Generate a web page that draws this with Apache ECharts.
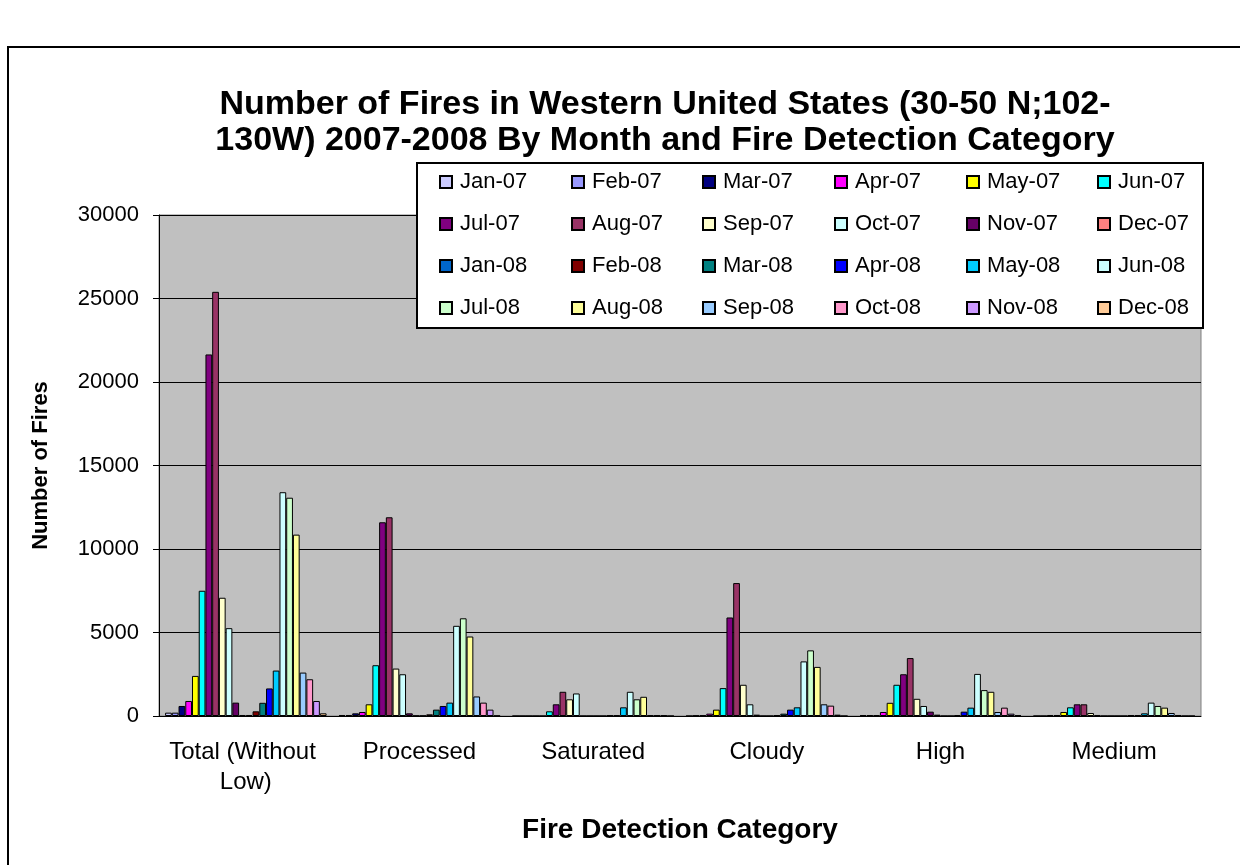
<!DOCTYPE html>
<html>
<head>
    <meta charset="utf-8">
    <title>ECharts</title>
    <script src="https://cdn.jsdelivr.net/npm/echarts@6/dist/echarts.min.js"></script>
    <style type="text/css">
        html, body {
            margin: 0;
            height: 100%;
            background: #fff;
        }
    </style>
</head>
<body>
<div id="main" style="width: 1240px;height:865px;"></div>
<script type="text/javascript">
    var categories = ['Total (Without Low)', 'Processed', 'Saturated', 'Cloudy', 'High', 'Medium'];
    var months = ['Jan-07', 'Feb-07', 'Mar-07', 'Apr-07', 'May-07', 'Jun-07',
        'Jul-07', 'Aug-07', 'Sep-07', 'Oct-07', 'Nov-07', 'Dec-07',
        'Jan-08', 'Feb-08', 'Mar-08', 'Apr-08', 'May-08', 'Jun-08',
        'Jul-08', 'Aug-08', 'Sep-08', 'Oct-08', 'Nov-08', 'Dec-08'];
    var colors = ['#CCCCFF', '#9999FF', '#000080', '#FF00FF', '#FFFF00', '#00FFFF',
        '#800080', '#993366', '#FFFFCC', '#CCFFFF', '#660066', '#FF8080',
        '#0066CC', '#800000', '#008080', '#0000FF', '#00CCFF', '#CCFFFF',
        '#CCFFCC', '#FFFF99', '#99CCFF', '#FF99CC', '#CC99FF', '#FFCC99'];

    // fires per month (Jan-07 .. Dec-08) for each detection category
    var totalWithoutLow = [200, 200, 600, 900, 2400, 7500, 21650, 25400, 7080, 5260, 800, 60,
        60, 280, 790, 1650, 2720, 13400, 13070, 10860, 2600, 2200, 900, 160];
    var processed = [60, 60, 160, 240, 700, 3040, 11600, 11900, 2840, 2500, 160, 20,
        20, 100, 380, 600, 800, 5400, 5850, 4760, 1170, 800, 380, 20];
    var saturated = [0, 0, 0, 0, 0, 280, 700, 1450, 1000, 1350, 0, 0,
        0, 0, 40, 40, 520, 1450, 1000, 1150, 40, 40, 40, 0];
    var cloudy = [0, 30, 50, 140, 380, 1670, 5900, 7960, 1870, 700, 80, 0,
        0, 50, 140, 380, 520, 3270, 3930, 2940, 700, 620, 80, 0];
    var high = [50, 50, 50, 240, 790, 1870, 2500, 3470, 1030, 600, 260, 80,
        0, 0, 50, 260, 500, 2520, 1550, 1450, 240, 500, 140, 50];
    var medium = [0, 0, 60, 60, 240, 520, 700, 700, 180, 60, 0, 0,
        0, 0, 50, 50, 160, 800, 600, 500, 180, 60, 0, 0];

    var yTicks = [0, 5000, 10000, 15000, 20000, 25000, 30000];

    var groups = [totalWithoutLow, processed, saturated, cloudy, high, medium];
    var font = "'Liberation Sans', Arial, sans-serif";

    var series = months.map(function (m, i) {
        return {
            name: m,
            type: 'bar',
            barGap: '0%',
            barCategoryGap: '7%',
            itemStyle: {color: colors[i], borderColor: '#000', borderWidth: 1},
            data: groups.map(function (g) { return g[i]; })
        };
    });

    // legend: 6 columns of 4 rows, like the original box
    var legendCols = [439, 571, 702, 834, 966, 1097];
    var legends = legendCols.map(function (x, c) {
        return {
            orient: 'vertical',
            left: x,
            top: 171,
            z: 10,
            itemWidth: 12,
            itemHeight: 12,
            itemGap: 20,
            padding: 0,
            icon: 'rect',
            textStyle: {fontFamily: font, fontSize: 22, color: '#000', lineHeight: 21, padding: [0, 0, 0, 3]},
            data: [months[c], months[c + 6], months[c + 12], months[c + 18]]
        };
    });

    var myChart = echarts.init(document.getElementById('main'), null, {renderer: 'canvas'});

    var option = {
        animation: false,
        color: colors,
        title: {
            text: 'Number of Fires in Western United States (30-50 N;102-\n130W) 2007-2008 By Month and Fire Detection Category',
            left: 660,
            top: 82,
            textAlign: 'center',
            textStyle: {fontFamily: font, fontSize: 34, fontWeight: 'bold', color: '#000', lineHeight: 36}
        },
        legend: legends,
        graphic: [
            {type: 'rect', z: 0, shape: {x: 8, y: 47, width: 1300, height: 900}, style: {fill: 'none', stroke: '#000', lineWidth: 2}, silent: true},
            {type: 'rect', z: 5, shape: {x: 417, y: 163, width: 786, height: 165}, style: {fill: '#fff', stroke: '#000', lineWidth: 2}, silent: true}
        ],
        grid: {
            left: 159,
            right: 39,
            top: 215,
            bottom: 149,
            show: true,
            backgroundColor: '#C0C0C0',
            borderColor: '#808080',
            borderWidth: 1
        },
        xAxis: {
            type: 'category',
            data: categories,
            name: 'Fire Detection Category',
            nameLocation: 'middle',
            nameGap: 100,
            nameTextStyle: {fontFamily: font, fontSize: 28, fontWeight: 'bold', color: '#000'},
            axisLine: {lineStyle: {color: '#000', width: 1}},
            axisTick: {length: 7, lineStyle: {color: '#000'}},
            axisLabel: {
                interval: 0, margin: 21, width: 172, overflow: 'break',
                fontFamily: font, fontSize: 24, color: '#000', lineHeight: 30
            }
        },
        yAxis: {
            type: 'value',
            min: yTicks[0],
            max: yTicks[yTicks.length - 1],
            interval: yTicks[1] - yTicks[0],
            name: 'Number of Fires',
            nameLocation: 'middle',
            nameGap: 107,
            nameTextStyle: {fontFamily: font, fontSize: 22, fontWeight: 'bold', color: '#000'},
            axisLine: {show: true, lineStyle: {color: '#000'}},
            axisTick: {show: true, length: 6, lineStyle: {color: '#000'}},
            axisLabel: {
                margin: 20, fontFamily: font, fontSize: 22, color: '#000',
                formatter: function (v) { return String(v); }
            },
            splitLine: {lineStyle: {color: '#000', width: 1.2}}
        },
        series: series
    };

    myChart.setOption(option);

    window.addEventListener("resize", function () {
        myChart.resize();
    });
</script>
</body>
</html>
